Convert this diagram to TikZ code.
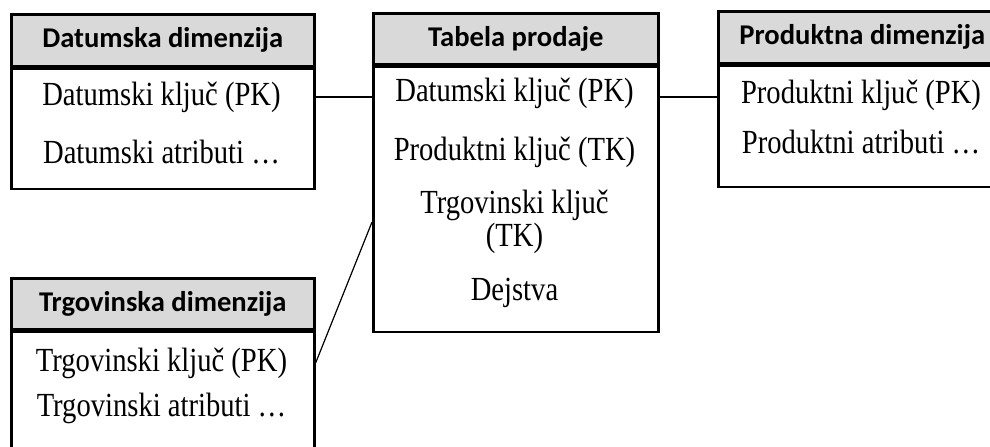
\documentclass[tikz,border=0pt]{standalone}
\usepackage{graphicx}
\usepackage{fontspec}
\setmainfont{Liberation Serif}
\newfontfamily\hdrfont{Carlito}
\usetikzlibrary{positioning}
\definecolor{hdrgray}{RGB}{217,217,217}
\newcommand{\tall}[1]{\scalebox{1}[1.18]{#1}}
\begin{document}
\begin{tikzpicture}[x=0.5pt,y=-0.5pt,
  hdr/.style={draw,line width=1.3pt,fill=hdrgray,anchor=north west,inner sep=0pt,font=\hdrfont\bfseries\fontsize{14.3}{17}\selectfont},
  body/.style={draw,line width=1.3pt,inner sep=0pt},
  attr/.style={font=\fontsize{14.3}{15}\selectfont,align=center,inner sep=0pt}]
\clip (0,0) rectangle (990,446);
% tabele
\node [hdr,minimum width=151.5pt,minimum height=26pt] (datum) at (10,13) {Datumska dimenzija};
\node [body,minimum width=151.5pt,minimum height=60pt,below=0pt of datum] (datumbody) {};
\node [hdr,minimum width=142.5pt,minimum height=25.5pt] (prodaja) at (372,12) {Tabela prodaje};
\node [body,minimum width=142.5pt,minimum height=132.5pt,below=0pt of prodaja] (prodajabody) {};
\node [hdr,minimum width=144pt,minimum height=26pt] (produkt) at (717,10) {Produktna dimenzija};
\node [body,minimum width=144pt,minimum height=60.5pt,below=0pt of produkt] (produktbody) {};
\node [hdr,minimum width=151.5pt,minimum height=25.5pt] (trg) at (10,277) {Trgovinska dimenzija};
\node [body,minimum width=151.5pt,minimum height=60.5pt,below=0pt of trg] (trgbody) {};
% atributi
\node [attr] (d1) at (161.5,97) {\tall{Datumski ključ (PK)}};
\node [attr] (d2) at (161.5,152) {\tall{Datumski atributi …}};
\node [attr] (f1) at (514.5,93) {\tall{Datumski ključ (PK)}};
\node [attr] (f2) at (514.5,152) {\tall{Produktni ključ (TK)}};
\node [attr] (f3) at (514.5,222) {\tall{Trgovinski ključ}\\\tall{(TK)}};
\node [attr] (f4) at (514.5,293) {\tall{Dejstva}};
\node [attr] (p1) at (861,95) {\tall{Produktni ključ (PK)}};
\node [attr] (p2) at (861,142) {\tall{Produktni atributi …}};
\node [attr] (t1) at (161.5,363) {\tall{Trgovinski ključ (PK)}};
\node [attr] (t2) at (161.5,408) {\tall{Trgovinski atributi …}};
% veze
\draw [line width=0.6pt] (datumbody.east |- d1) -- (prodajabody.west |- d1);
\draw [line width=0.6pt] (prodajabody.east |- d1) -- (produktbody.west |- d1);
\draw [line width=0.6pt] (trgbody.east |- t1) -- (prodajabody.west |- f3);
\end{tikzpicture}
\end{document}
